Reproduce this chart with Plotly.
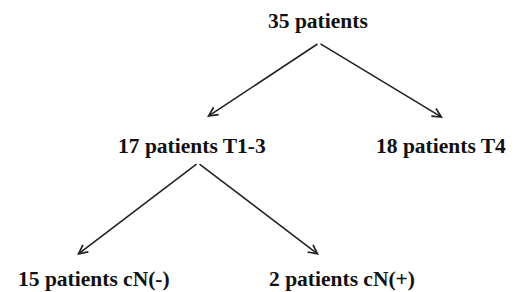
import plotly.graph_objects as go

# Data: tree nodes and edges
node_labels = ["35 patients", "17 patients T1-3", "18 patients T4",
               "15 patients cN(-)", "2 patients cN(+)"]
edges = [(0, 1), (0, 2), (1, 3), (1, 4)]

# Layout (pixel coordinates of label centres)
label_pos = [(318, 21), (192, 146), (441, 146), (94, 279), (342, 279)]
# arrow start (apex under parent) and arrow end (tip above child)
apex = {0: (319, 43), 1: (198, 163)}
tips = {1: (207, 117), 2: (443, 118), 3: (77, 255), 4: (319, 255)}

# page body has an 8px margin; shift axis ranges so coordinates match window pixels
OFF = 8

fig = go.Figure()
fig.add_trace(go.Scatter(x=[OFF, 515 + OFF], y=[OFF, 292 + OFF], mode="markers",
                         marker=dict(opacity=0), hoverinfo="skip", showlegend=False))

for p, c in edges:
    ax, ay = apex[p]
    x, y = tips[c]
    fig.add_annotation(x=x, y=y, ax=ax, ay=ay, xref="x", yref="y",
                       axref="x", ayref="y", text="", showarrow=True,
                       arrowhead=5, arrowsize=1.1, arrowwidth=1.6,
                       arrowcolor="#222222")

for lab, (x, y) in zip(node_labels, label_pos):
    fig.add_annotation(x=x, y=y, xref="x", yref="y", text="<b>%s</b>" % lab,
                       showarrow=False, borderpad=0,
                       font=dict(family="Liberation Serif", size=21.5, color="#111111"))

fig.update_xaxes(range=[OFF, 515 + OFF], visible=False, fixedrange=True)
fig.update_yaxes(range=[292 + OFF, OFF], visible=False, fixedrange=True)
fig.update_layout(width=515, height=292, margin=dict(l=0, r=0, t=0, b=0),
                  plot_bgcolor="white", paper_bgcolor="white", showlegend=False)
fig.write_html("out.html")
